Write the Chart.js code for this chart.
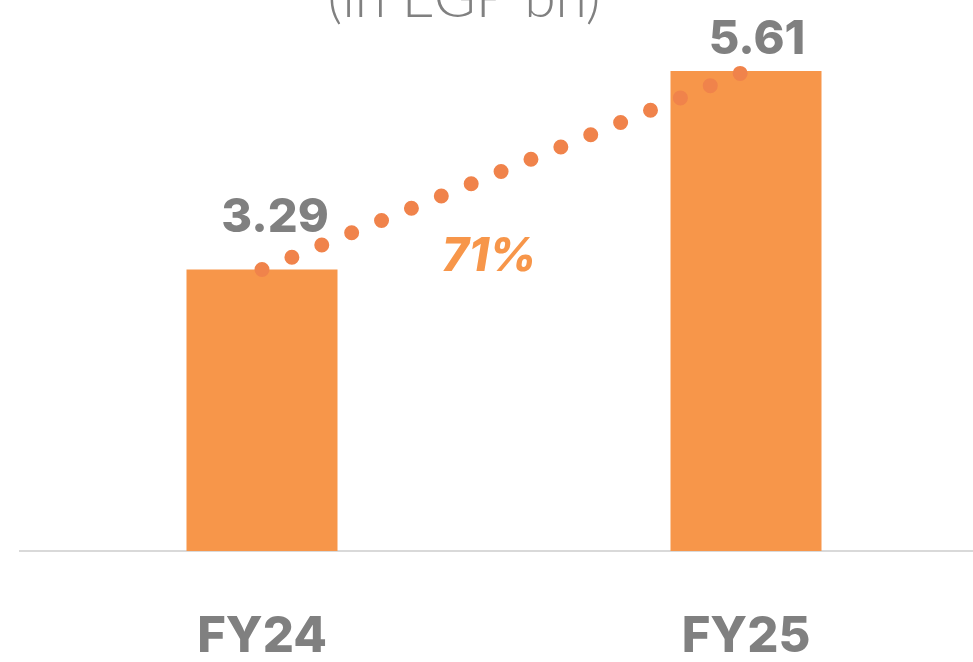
<!DOCTYPE html>
<html>
<head>
<meta charset="utf-8">
<script src="https://cdn.jsdelivr.net/npm/chart.js@4.4.1/dist/chart.umd.min.js"></script>
<style>
  html, body { margin: 0; padding: 0; background: #fff; overflow: hidden; }
  #wrap { position: relative; width: 1000px; height: 662px; }
</style>
</head>
<body>
<div id="wrap"><canvas id="revChart" width="1000" height="662"></canvas></div>
<script>
const categories = ["FY24", "FY25"];
const revenue = [3.29, 5.61];
const unitTitle = "(in EGP bn)";

const barColor = "#F7964A";
const dotColor = "#F0834B";
const grey = "#808080";

// value labels sit a little right of the bar centre, like the slide
const labelShift = [{ dx: 13, dy: -38 }, { dx: 11, dy: -17 }];

const growthPct = Math.round((revenue[1] / revenue[0] - 1) * 100) + "%";

const overlay = {
  id: "overlay",
  afterDatasetsDraw(chart) {
    const ctx = chart.ctx;
    const bars = chart.getDatasetMeta(1).data;
    ctx.save();

    // unit title, cut off at top of frame
    ctx.fillStyle = grey;
    ctx.font = "300 57px Lato";
    ctx.textAlign = "center";
    ctx.textBaseline = "alphabetic";
    ctx.fillText(unitTitle, 464, 17);

    // bar value labels
    ctx.font = "800 47px Inter";
    bars.forEach((bar, i) => {
      ctx.fillText(revenue[i].toFixed(2), bar.x + labelShift[i].dx, bar.y + labelShift[i].dy);
    });

    // growth label
    ctx.fillStyle = barColor;
    ctx.font = "italic 800 46px Inter";
    ctx.fillText(growthPct, (bars[0].x + bars[1].x) / 2 - 15, bars[0].y + 1);
    ctx.restore();
  }
};

const ctx = document.getElementById("revChart").getContext("2d");
new Chart(ctx, {
  data: {
    labels: categories,
    datasets: [
      {
        type: "line",
        data: revenue,
        borderColor: dotColor,
        borderWidth: 15,
        borderDash: [0, 32.3],
        borderCapStyle: "round",
        pointRadius: 0,
        order: 0
      },
      {
        type: "bar",
        data: revenue,
        backgroundColor: barColor,
        categoryPercentage: 1,
        barPercentage: 0.312,
        order: 1
      }
    ]
  },
  options: {
    responsive: false,
    devicePixelRatio: 1,
    animation: false,
    layout: { padding: { left: 20, right: 12, top: 0, bottom: 0 } },
    plugins: {
      legend: { display: false },
      tooltip: { enabled: false }
    },
    scales: {
      x: {
        grid: { display: false },
        border: { display: true, color: "#D9D9D9", width: 2 },
        ticks: {
          color: grey,
          font: { family: "Inter", size: 49, weight: "800" },
          padding: 49
        },
        afterFit(scale) { scale.height = 111; }
      },
      y: {
        display: false,
        min: 0,
        max: 6.44
      }
    }
  },
  plugins: [overlay]
});
</script>
</body>
</html>
